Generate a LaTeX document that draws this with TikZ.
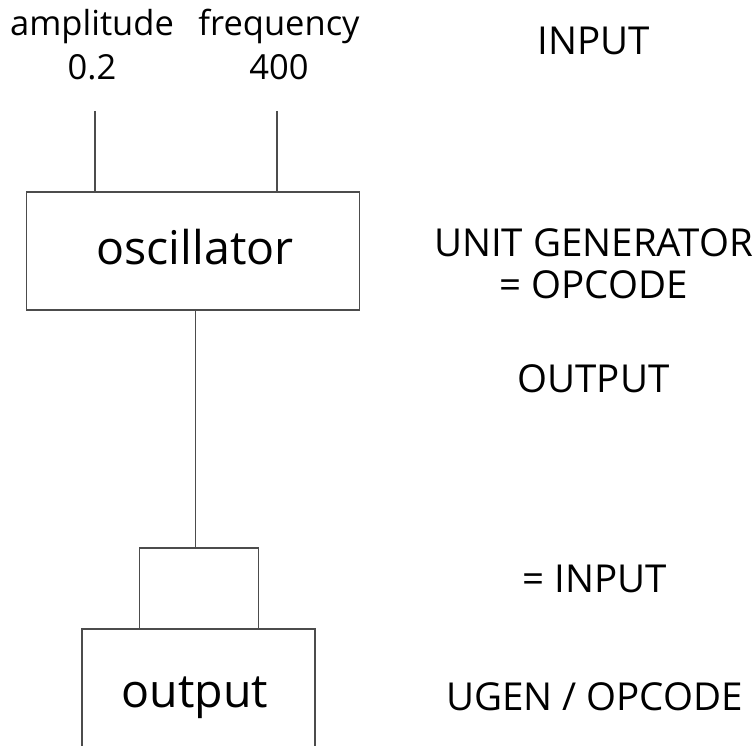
\documentclass[tikz,border=0pt]{standalone}
\usepackage{fontspec}
\setmainfont{Open Sans}
\begin{document}
\begin{tikzpicture}[x=1pt,y=-1pt,
  wire/.style={draw=black!70,line width=1.2pt},
  block/.style={draw=black!70,line width=1.2pt,rectangle,inner sep=0pt},
  toplabel/.style={anchor=base,inner sep=0pt,font=\fontsize{34.5}{34.5}\selectfont},
  blocklabel/.style={font=\fontsize{46.5}{46.5}\selectfont},
  notelabel/.style={anchor=base,inner sep=0pt,font=\fontsize{38.5}{38.5}\selectfont}]
\useasboundingbox (0,0) rectangle (756,746);
\clip (0,0) rectangle (756,746);

% parameter names and values
\node[toplabel] (amp) at (92,36) {amplitude};
\node[toplabel] (freq) at (279,36) {frequency};
\node[toplabel] (ampv) at (92,80) {0.2};
\node[toplabel] (freqv) at (279,80) {400};

% unit generators
\node[block,minimum width=333pt,minimum height=118pt] (osc) at (192.7,251) {};
\node[blocklabel,anchor=base] (osclabel) at (195,265) {oscillator};
\node[block,minimum width=119pt,minimum height=81pt] (inbox) at (198.7,588.5) {};
\node[block,minimum width=233pt,minimum height=132pt] (out) at (198.5,695) {};
\node[blocklabel,anchor=base] (outlabel) at (195,707) {output};

% input wires
\coordinate (ain) at (95,111);
\coordinate (fin) at (277,111);
\draw[wire] (ain) -- (ain |- osc.north);
\draw[wire] (fin) -- (fin |- osc.north);

% signal from oscillator to output
\coordinate (sig) at (195.7,0);
\draw[wire] (sig |- osc.south) -- (sig |- inbox.north);

% explanatory notes
\node[notelabel] (n1) at (594,55) {INPUT};
\node[notelabel] (n2) at (593.5,257) {UNIT GENERATOR};
\node[notelabel] (n3) at (593.5,299) {= OPCODE};
\node[notelabel] (n4) at (593.5,393) {OUTPUT};
\node[notelabel] (n5) at (594.5,592) {= INPUT};
\node[notelabel] (n6) at (594.5,710) {UGEN / OPCODE};
\end{tikzpicture}
\end{document}
